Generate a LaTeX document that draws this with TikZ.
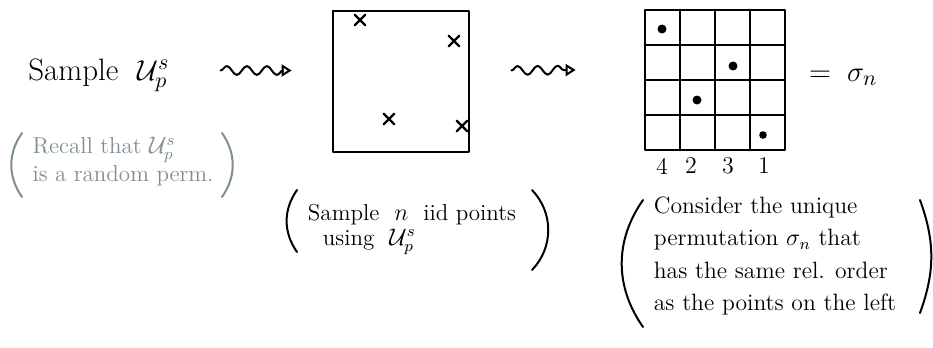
\documentclass[tikz,border=0pt]{standalone}
\usetikzlibrary{arrows.meta,calc,decorations.pathmorphing,shapes.misc}
\definecolor{notegray}{RGB}{125,142,148}
\tikzset{
  squig/.style={line width=1pt, decorate,
    decoration={snake, amplitude=2.2pt, segment length=10pt, post length=4pt},
    -{Triangle[open, length=5pt, width=6pt]}},
  xmark/.style={cross out, draw, line width=1.2pt, minimum size=4pt, inner sep=0pt},
  dot/.style={circle, fill, inner sep=0pt, minimum size=4.5pt},
  paren/.style={line width=1pt},
  numlbl/.style={font=\fontsize{12}{14}\selectfont},
}
\begin{document}
\begin{tikzpicture}[x=0.5pt, y=-0.5pt, line cap=round, line join=round]
    \useasboundingbox (0,0) rectangle (933,348);

    % 1. Sample U^s_p and the grey reminder
    \node[anchor=base west, inner sep=0pt, font=\fontsize{15.5}{18}\selectfont] (smp) at (28,80) {Sample\ \ $\mathcal{U}^s_p$};
    \node[align=left, inner sep=0pt, text=notegray, font=\fontsize{11.5}{14}\selectfont] (rec) at (123,162)
        {Recall that $\mathcal{U}^s_p$\\is a random perm.};
    \draw[paren, notegray] (22,133) to[bend right=35] (22,197);
    \draw[paren, notegray] (222,133) to[bend left=35] (222,197);

    % 2. Unit square with the sampled points
    \node[draw, line width=1.4pt, minimum width=68pt, minimum height=70.5pt, inner sep=0pt] (box) at (401,81.5) {};
    \node[xmark] (p1) at (360,20) {};
    \node[xmark] (p2) at (454,41) {};
    \node[xmark] (p3) at (389,119) {};
    \node[xmark] (p4) at (462,126) {};
    \node[align=left, inner sep=0pt, font=\fontsize{11.5}{12.5}\selectfont] (smpn) at (412,229)
        {Sample\ \ $n$\ \ iid points\\\ \ using\ \ $\mathcal{U}^s_p$};
    \draw[paren] (297,190) to[bend right=35] (297,252);
    \draw[paren] (532,190) to[bend left=44] (532,270);

    % 3. Permutation grid
    \node[draw, line width=1.4pt, minimum size=70pt, inner sep=0pt] (perm) at (715,80) {};
    \foreach \k in {1,2,3} {
        \draw[line width=1.4pt] (645+35*\k,10) -- (645+35*\k,150);
        \draw[line width=1.4pt] (645,10+35*\k) -- (785,10+35*\k);
    }
    \node[dot] (d1) at (662,29) {};
    \node[dot] (d2) at (733,66) {};
    \node[dot] (d3) at (697,100) {};
    \node[dot, minimum size=3.8pt] (d4) at (763,135) {};
    \node[numlbl] (n4) at (662,166) {4};
    \node[numlbl] (n2) at (691,166) {2};
    \node[numlbl] (n3) at (728,166) {3};
    \node[numlbl] (n1) at (764,166) {1};
    \node[anchor=west, font=\fontsize{15}{18}\selectfont] (eq) at (802,77) {$=\;\sigma_n$};
    \node[align=left, inner sep=0pt, font=\fontsize{11.8}{16.3}\selectfont] (cons) at (775,256)
        {Consider the unique\\permutation $\sigma_n$ that\\has the same rel. order\\as the points on the left};
    \draw[paren] (643,200) to[bend right=35] (643,327);
    \draw[paren] (920,200) to[bend left=20] (920,313);

    % 4. Squiggly arrows
    \draw[squig] ($(box.west)+(-111,-11)$) -- ($(box.west)+(-40,-11)$);
    \draw[squig] ($(box.east)+(41,-11)$) -- ($(perm.west)+(-68,-10)$);
\end{tikzpicture}
\end{document}
